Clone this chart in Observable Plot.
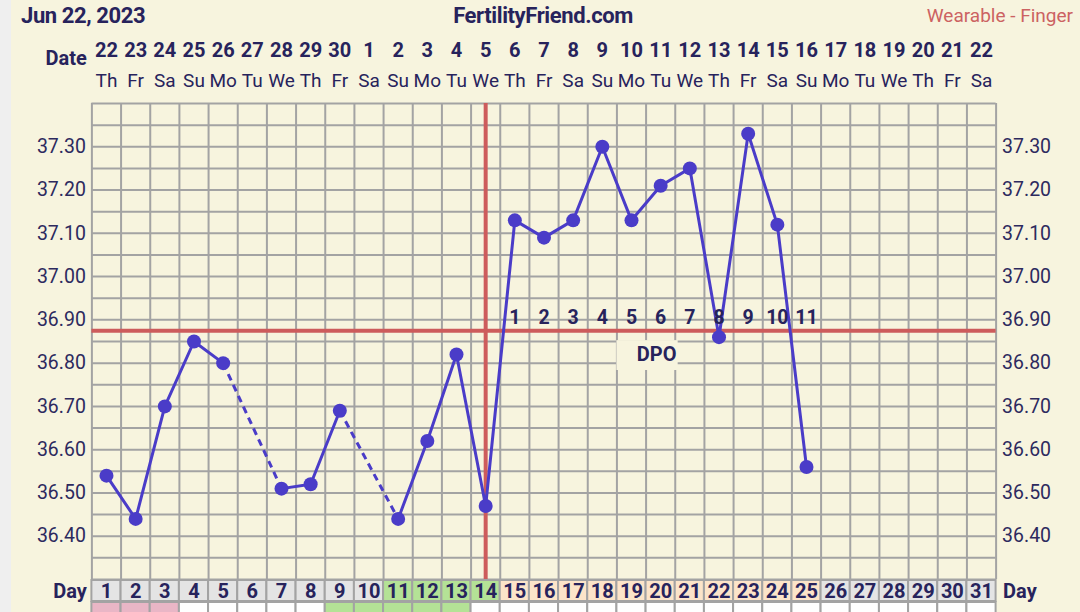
<!DOCTYPE html>
<html>
<head>
<meta charset="utf-8">
<script src="https://cdn.jsdelivr.net/npm/d3@7"></script>
<script src="https://cdn.jsdelivr.net/npm/@observablehq/plot@0.6"></script>
<style>
  html, body { margin: 0; padding: 0; background: #f7f4de; }
  #wrap { position: relative; width: 1080px; height: 612px; overflow: hidden; background: #f7f4de; font-family: Roboto, sans-serif; }
  #header { position: relative; width: 1080px; height: 30px; }
  #header span { position: absolute; top: 1px; line-height: 30px; white-space: nowrap; }
  #title { left: 21px; font-weight: bold; font-size: 22px; color: #27235c; letter-spacing: -0.4px; }
  #site { left: 543px; transform: translateX(-50%); font-weight: bold; font-size: 22px; color: #27235c; letter-spacing: -0.4px; }
  #source { right: 7px; font-size: 19px; color: #cc6262; }
  #strip { position: absolute; left: 0; top: 0; width: 11px; height: 612px; background: #efefef; z-index: 5; }
  svg { display: block; }
</style>
</head>
<body>
<div id="wrap">
  <div id="strip"></div>
  <div id="header">
    <span id="title">Jun 22, 2023</span>
    <span id="site">FertilityFriend.com</span>
    <span id="source">Wearable - Finger</span>
  </div>
  <div id="chart"></div>
</div>
<script>
// ---- data ----
const cycleDays = d3.range(1, 32);
const dateLabels = ["22","23","24","25","26","27","28","29","30","1","2","3","4","5","6","7","8","9","10","11","12","13","14","15","16","17","18","19","20","21","22"];
const weekdayLabels = ["Th","Fr","Sa","Su","Mo","Tu","We","Th","Fr","Sa","Su","Mo","Tu","We","Th","Fr","Sa","Su","Mo","Tu","We","Th","Fr","Sa","Su","Mo","Tu","We","Th","Fr","Sa"];
const temps = [36.54, 36.44, 36.70, 36.85, 36.80, null, 36.51, 36.52, 36.69, null,
               36.44, 36.62, 36.82, 36.47, 37.13, 37.09, 37.13, 37.30, 37.13, 37.21,
               37.25, 36.86, 37.33, 37.12, 36.56];
const yTicks = [36.40, 36.50, 36.60, 36.70, 36.80, 36.90, 37.00, 37.10, 37.20, 37.30];
const coverDay = 14;
const coverTemp = 36.875;
const dpoDays = [15,16,17,18,19,20,21,22,23,24,25];
const dpoLabels = ["1","2","3","4","5","6","7","8","9","10","11"];
const dayPhase = ["gray","gray","gray","gray","gray","gray","gray","gray","gray","gray",
                  "fertile","fertile","fertile","fertile",
                  "luteal","luteal","luteal","luteal","luteal","luteal","luteal","luteal","luteal","luteal","luteal",
                  "gray","gray","gray","gray","gray","gray"];
const lowerRow = ["pink","pink","pink","white","white","white","white","white","green","green","green","green","green",
                  "white","white","white","white","white","white","white","white","white","white","white","white","white","white","white","white","white","white"];

// ---- derived ----
const points = temps.map((t, i) => ({day: i + 1, temp: t})).filter(d => d.temp != null);
const lineData = temps.map((t, i) => ({day: i + 1, temp: t == null ? NaN : t}));
const gaps = [];
for (let i = 1; i < points.length; i++) {
  if (points[i].day - points[i - 1].day > 1) gaps.push({a: points[i - 1], b: points[i]});
}
const phaseColor = {gray: "#e4e4e4", fertile: "#b4e296", luteal: "#fce4c9"};
const lowerColor = {pink: "#e9b6c6", white: "#ffffff", green: "#b4e296"};

const W = 1080, H = 582;
const mT = 73, mB = 33, mL = 91.4, mR = 84.4;
const frameH = H - mT - mB;

const ink = "#27235c";
const blue = "#4a3cc8";
const red = "#cd5c5c";
const grid = "#a3a3a3";
const bg = "#f7f4de";

const gridY = d3.range(0, 23).map(i => 36.30 + i * 0.05);
const gridX = d3.range(0, 32).map(i => 0.5 + i);

const chart = Plot.plot({
  width: W,
  height: H,
  marginTop: mT, marginBottom: mB, marginLeft: mL, marginRight: mR,
  style: {background: bg, fontFamily: "Roboto, sans-serif", fontSize: "19.5px", color: "#2d2a5e", overflow: "visible"},
  x: {domain: [0.5, 31.5], axis: null},
  y: {domain: [36.30, 37.40], ticks: yTicks, tickFormat: d3.format(".2f"), tickSize: 0, tickPadding: 6, axis: "both", label: null},
  marks: [
    // grid
    Plot.ruleY(gridY, {stroke: grid, strokeWidth: 2}),
    Plot.ruleX(gridX, {stroke: grid, strokeWidth: 2}),
    // DPO label box
    Plot.rect([0], {x1: 18.5, x2: 20.6, y1: 36.852, y2: 36.783, fill: bg}),
    // coverline
    Plot.ruleY([coverTemp], {stroke: red, strokeWidth: 4}),
    Plot.ruleX([coverDay], {stroke: red, strokeWidth: 4}),
    // temperature line
    Plot.link(gaps, {x1: d => d.a.day, y1: d => d.a.temp, x2: d => d.b.day, y2: d => d.b.temp,
      stroke: blue, strokeWidth: 3, strokeDasharray: "7,5"}),
    Plot.line(lineData, {x: "day", y: "temp", stroke: blue, strokeWidth: 3}),
    Plot.dot(points, {x: "day", y: "temp", r: 7, fill: blue, stroke: "none"}),
    // DPO numbers
    Plot.text(dpoDays, {x: d => d, y: coverTemp, text: (d, i) => dpoLabels[i], dy: -13,
      fontSize: 19.5, fontWeight: "bold", fill: ink}),
    Plot.text(["DPO"], {x: 19.86, y: 36.82, text: d => d, fontSize: 20, fontWeight: "bold", fill: ink}),
    // top date rows
    Plot.text(cycleDays, {x: d => d, text: (d, i) => dateLabels[i], frameAnchor: "top", lineAnchor: "middle", dy: -53,
      fontSize: 20, fontWeight: "bold", fill: ink, letterSpacing: "-0.5px"}),
    Plot.text(cycleDays, {x: d => d, text: (d, i) => weekdayLabels[i], frameAnchor: "top", lineAnchor: "middle", dy: -23,
      fontSize: 19, fill: ink}),
    Plot.text(["Date"], {frameAnchor: "top-left", lineAnchor: "middle", text: d => d, dx: -5, dy: -45, textAnchor: "end",
      fontSize: 20, fontWeight: "bold", fill: ink, letterSpacing: "-0.5px"}),
    // day row cells
    Plot.rect(cycleDays, {x1: d => d - 0.5, x2: d => d + 0.5, insetTop: frameH + 1, insetBottom: -22,
      fill: (d, i) => phaseColor[dayPhase[i]], stroke: grid, strokeWidth: 2}),
    Plot.rect(cycleDays, {x1: d => d - 0.5, x2: d => d + 0.5, insetTop: frameH + 23, insetBottom: -36,
      fill: (d, i) => lowerColor[lowerRow[i]], stroke: grid, strokeWidth: 2}),
    Plot.text(cycleDays, {x: d => d, text: d => String(d), frameAnchor: "bottom", lineAnchor: "middle", dy: 12,
      fontSize: 20, fontWeight: "bold", fill: ink, letterSpacing: "-0.5px"}),
    Plot.text(["Day"], {frameAnchor: "bottom-left", lineAnchor: "middle", text: d => d, dx: -5, dy: 12, textAnchor: "end",
      fontSize: 20, fontWeight: "bold", fill: ink, letterSpacing: "-0.5px"}),
    Plot.text(["Day"], {frameAnchor: "bottom-right", lineAnchor: "middle", text: d => d, dx: 7, dy: 12, textAnchor: "start",
      fontSize: 20, fontWeight: "bold", fill: ink, letterSpacing: "-0.5px"})
  ]
});
document.getElementById("chart").appendChild(chart);
</script>
</body>
</html>
